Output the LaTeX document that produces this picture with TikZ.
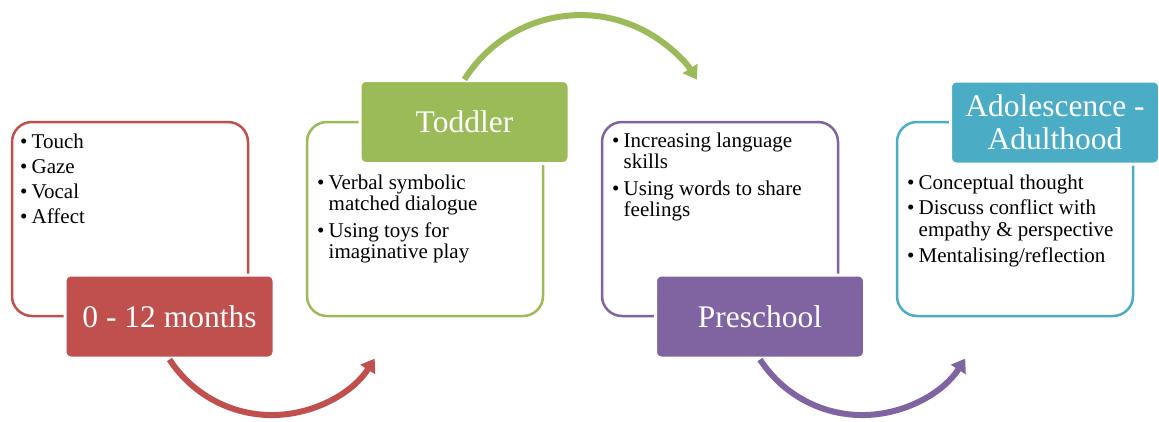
\documentclass[tikz,border=0pt]{standalone}
\usepackage{fontspec}
\setmainfont{Liberation Serif}
\usetikzlibrary{arrows.meta}

\definecolor{stageRed}{HTML}{C0504D}
\definecolor{stageGreen}{HTML}{9BBB59}
\definecolor{stagePurple}{HTML}{8064A2}
\definecolor{stageTeal}{HTML}{4BACC6}

% bullet line and continuation line of a bullet list
\newcommand\bitem[1]{\hbox{\makebox[11.5pt][l]{\textbullet}#1}}
\newcommand\bcont[1]{\hbox{\hspace*{11.5pt}#1}}

\tikzset{
  panel/.style={draw=#1, line width=2.5pt, rounded corners=20pt,
    minimum width=236pt, minimum height=194pt, inner sep=0pt},
  header/.style={fill=#1, draw=white, line width=3pt, rounded corners=6pt,
    minimum width=209pt, minimum height=83pt, inner sep=0pt,
    text=white, font=\fontsize{31.5}{33}\selectfont, align=center},
  bullets/.style={anchor=base west, inner sep=0pt,
    font=\fontsize{21}{21.5}\selectfont},
  flow/.style={draw=#1, line width=6pt,
    -{Triangle[width=17pt,length=13pt]}},
}

\begin{document}
\begin{tikzpicture}[x=1pt,y=1pt]
\useasboundingbox (0,0) rectangle (1159,-421);

% outlined panels
\node[panel=stageRed]    (b1) at (130,-219) {};
\node[panel=stageGreen]  (b2) at (425,-219) {};
\node[panel=stagePurple] (b3) at (720,-219) {};
\node[panel=stageTeal]   (b4) at (1015,-219) {};

% bullet lists
\node[bullets] (t1) at (20,-148) {\vtop{\baselineskip=25pt
  \bitem{Touch}\bitem{Gaze}\bitem{Vocal}\bitem{Affect}}};
\node[bullets] (t2) at (317,-189) {\vtop{\baselineskip=21.5pt
  \bitem{Verbal symbolic}\bcont{matched dialogue}\vskip5pt
  \bitem{Using toys for}\bcont{imaginative play}}};
\node[bullets] (t3) at (612,-147) {\vtop{\baselineskip=21.5pt
  \bitem{Increasing language}\bcont{skills}\vskip5pt
  \bitem{Using words to share}\bcont{feelings}}};
\node[bullets] (t4) at (907,-189) {\vtop{\baselineskip=21.5pt
  \bitem{Conceptual thought}\vskip4pt
  \bitem{Discuss conflict with}\bcont{empathy \& perspective}\vskip5pt
  \bitem{Mentalising/reflection}}};

% stage headers
\node[header=stageRed]    (h1) at (169.5,-316.5) {0 - 12 months};
\node[header=stageGreen]  (h2) at (464.5,-122)   {Toddler};
\node[header=stagePurple] (h3) at (760,-316.5)   {Preschool};
\node[header=stageTeal]   (h4) at (1055,-122.5)  {Adolescence -\\Adulthood};

% curved arrows leading from one stage to the next
\draw[flow=stageRed] (h1.south)
  arc[start angle=213, end angle=327.5, radius=122];
\draw[flow=stageGreen] ([yshift=-0.5pt]h2.north)
  arc[start angle=148, end angle=32, radius=137];
\draw[flow=stagePurple] (h3.south)
  arc[start angle=213, end angle=327.5, radius=122];
\end{tikzpicture}
\end{document}
